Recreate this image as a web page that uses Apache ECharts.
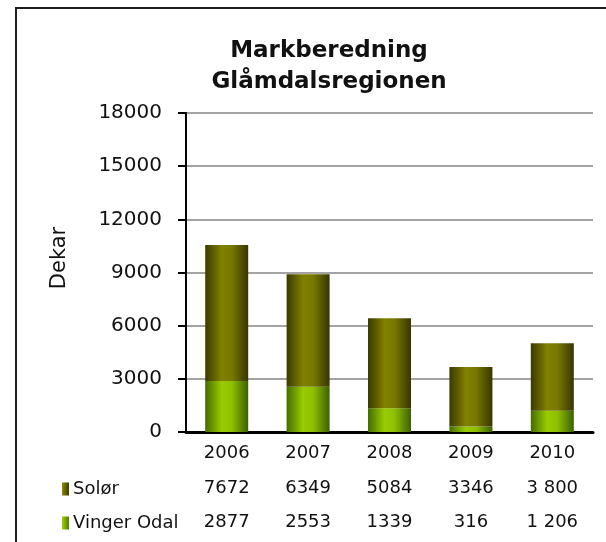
<!DOCTYPE html>
<html>
<head>
<meta charset="utf-8">
<script src="https://cdn.jsdelivr.net/npm/echarts@6/dist/echarts.min.js"></script>
<style>
html, body { margin: 0; padding: 0; background: #fff; }
#chart { width: 606px; height: 542px; }
</style>
</head>
<body>
<div id="chart"></div>
<script>
(function(){
    var mychart = echarts.init(document.getElementById('chart'))

    var years = ['2006', '2007', '2008', '2009', '2010'];
    var solor = [7672, 6349, 5084, 3346, 3800];
    var vinger = [2877, 2553, 1339, 316, 1206];
    // tekst i tabellen under grafen, slik den står i originalen
    var solorText = ['7672', '6349', '5084', '3346', '3 800'];
    var vingerText = ['2877', '2553', '1339', '316', '1 206'];
    var yTicks = [0, 3000, 6000, 9000, 12000, 15000, 18000];

    var font = 'DejaVu Sans';

    var colorSolor = new echarts.graphic.LinearGradient(0, 0, 1, 0, [
        { offset: 0, color: '#3a3a00' },
        { offset: 0.38, color: '#808000' },
        { offset: 0.62, color: '#787800' },
        { offset: 1, color: '#363600' }
    ]);
    var colorVinger = new echarts.graphic.LinearGradient(0, 0, 1, 0, [
        { offset: 0, color: '#456b00' },
        { offset: 0.38, color: '#99cc00' },
        { offset: 0.62, color: '#8fc000' },
        { offset: 1, color: '#3b6000' }
    ]);
    // små ikoner i forklaringen
    var iconSolor = new echarts.graphic.LinearGradient(0, 0, 1, 0, [
        { offset: 0, color: '#8a8a00' },
        { offset: 1, color: '#3c3c00' }
    ]);
    var iconVinger = new echarts.graphic.LinearGradient(0, 0, 1, 0, [
        { offset: 0, color: '#a0d000' },
        { offset: 1, color: '#4f8000' }
    ]);

    var tableAxis = function(labels, offset) {
        return {
            type: 'category',
            data: labels,
            position: 'bottom',
            offset: offset,
            axisLine: { show: false },
            axisTick: { show: false },
            axisLabel: {
                margin: 12,
                color: '#111',
                fontFamily: font,
                fontSize: 18
            }
        };
    };

    var legendItem = function(name, top, icon) {
        return {
            orient: 'horizontal',
            left: 57,
            top: top,
            itemWidth: 7,
            itemHeight: 13,
            icon: 'rect',
            data: [{ name: name, itemStyle: { color: icon, borderWidth: 0 } }],
            textStyle: {
                fontFamily: font,
                fontSize: 18,
                color: '#111',
                padding: [0, 0, 0, -1]
            }
        };
    };

    var option = {
        animation: false,
        backgroundColor: '#fff',
        title: {
            text: 'Markberedning\nGlåmdalsregionen',
            left: 324,
            textAlign: 'center',
            top: 31,
            textStyle: {
                fontFamily: font,
                fontWeight: 'bold',
                fontSize: 23,
                lineHeight: 31,
                color: '#111'
            }
        },
        graphic: [{
            type: 'rect',
            shape: { x: 16, y: 8, width: 700, height: 700 },
            style: { fill: null, stroke: '#1e1e1e', lineWidth: 2 },
            silent: true
        }, {
            type: 'text',
            x: 60,
            y: 258,
            rotation: Math.PI / 2,
            style: {
                text: 'Dekar',
                fontFamily: font,
                fontSize: 21,
                fill: '#111',
                align: 'center',
                verticalAlign: 'middle'
            },
            silent: true
        }],
        legend: [
            legendItem('Solør', 475, iconSolor),
            legendItem('Vinger Odal', 509, iconVinger)
        ],
        grid: {
            left: 186,
            right: 13,
            top: 113,
            bottom: 110,
            containLabel: false
        },
        xAxis: [{
            type: 'category',
            data: years,
            axisLine: { lineStyle: { color: '#000', width: 3 } },
            axisTick: { show: false },
            axisLabel: {
                margin: 12,
                color: '#111',
                fontFamily: font,
                fontSize: 18
            }
        },
        tableAxis(solorText, 35),
        tableAxis(vingerText, 69)
        ],
        yAxis: {
            type: 'value',
            min: yTicks[0],
            max: yTicks[yTicks.length - 1],
            interval: 3000,
            axisLine: { show: true, lineStyle: { color: '#000', width: 2 } },
            axisTick: { show: true, inside: false, length: 8, lineStyle: { color: '#000', width: 2 } },
            axisLabel: {
                margin: 24,
                color: '#111',
                fontFamily: font,
                fontSize: 20,
                formatter: function(v) { return String(v); }
            },
            splitLine: { show: true, lineStyle: { color: '#a3a3a3', width: 2 } }
        },
        series: [{
            name: 'Vinger Odal',
            type: 'bar',
            stack: 'sum',
            data: vinger,
            barWidth: 43,
            itemStyle: { color: colorVinger }
        }, {
            name: 'Solør',
            type: 'bar',
            stack: 'sum',
            data: solor,
            barWidth: 43,
            itemStyle: { color: colorSolor }
        }]
    };
    mychart.setOption(option);
})();
</script>
</body>
</html>
